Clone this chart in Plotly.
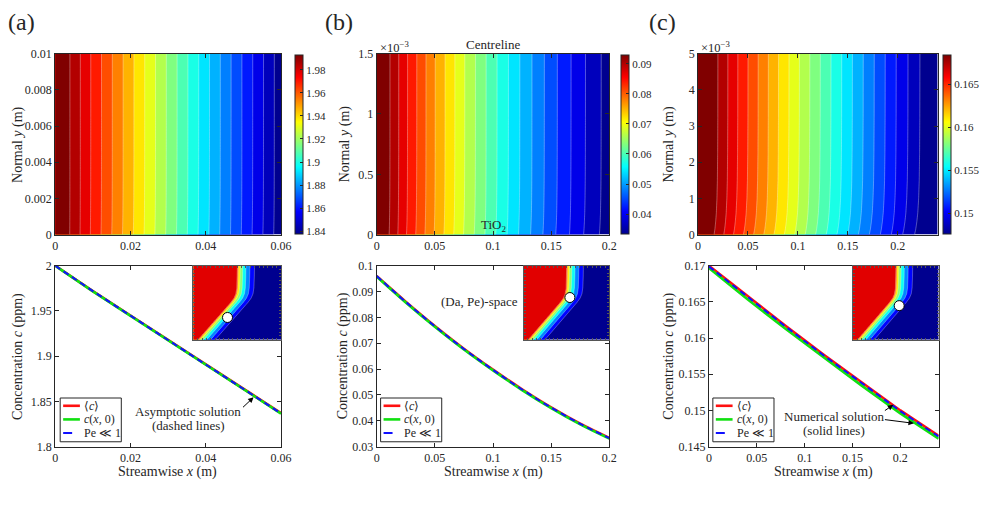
import numpy as np
import plotly.graph_objects as go

W, H = 994, 512
FONT = "Liberation Serif, Times New Roman, serif"
INK = "#262626"

# ------------------------------------------------------------------ data
# Panel (a)
xa = [0, 0.01, 0.02, 0.03, 0.04, 0.05, 0.06]
ca_mean = [2.0, 1.972, 1.945, 1.918, 1.891, 1.864, 1.837]
ca_wall = [2.0, 1.9717, 1.9446, 1.9176, 1.8906, 1.8636, 1.8366]
ca_asym = [2.0, 1.9719, 1.9448, 1.9178, 1.8908, 1.8638, 1.8368]
Ha = 0.01

# Panel (b)
xb = [0, 0.025, 0.05, 0.075, 0.1, 0.125, 0.15, 0.175, 0.2]
cb_mean = [0.0960, 0.0861, 0.0767, 0.0679, 0.0598, 0.0522, 0.0452, 0.0389, 0.0334]
cb_wall = [0.0958, 0.0858, 0.0764, 0.0676, 0.0595, 0.0519, 0.0449, 0.0386, 0.0331]
cb_asym = [0.0960, 0.0860, 0.0766, 0.0678, 0.0597, 0.0521, 0.0451, 0.0388, 0.0333]
Hb = 0.0015

# Panel (c)
xc = [0, 0.04, 0.08, 0.12, 0.16, 0.2, 0.24]
cc_mean = [0.1700, 0.1658, 0.1617, 0.1577, 0.1538, 0.1500, 0.1465]
cc_wall = [0.1697, 0.1654, 0.1613, 0.1573, 0.1534, 0.1496, 0.1461]
cc_asym = [0.1699, 0.1657, 0.1616, 0.1576, 0.1537, 0.1499, 0.1464]
Hc = 0.005

# normal profile: fraction of the wall deficit recovered vs y/H
eta = [0, 0.03, 0.07, 0.12, 0.2, 0.3, 0.45, 0.65, 1.0]
recov = [0, 0.22, 0.42, 0.6, 0.76, 0.87, 0.94, 0.98, 1.0]

# colour bar ranges / ticks
cbar_a = [1.838, 1.993]
cbar_b = [0.0335, 0.093]
cbar_c = [0.1476, 0.1685]
cticks_a = [1.84, 1.86, 1.88, 1.9, 1.92, 1.94, 1.96, 1.98]
cticks_b = [0.04, 0.05, 0.06, 0.07, 0.08, 0.09]
cticks_c = [0.15, 0.155, 0.16, 0.165]
n_levels = 20

# inset (Da, Pe)-space regime map: front position (normalised coords)
map_v = [0.0, 0.2, 0.4, 0.5, 0.56, 0.62, 0.7, 0.85, 1.0]
map_u = [0.05, 0.198, 0.346, 0.42, 0.458, 0.48, 0.49, 0.495, 0.497]
band_w = 0.24
mark_u = [0.39, 0.54, 0.54]
mark_v = [0.30, 0.57, 0.46]

JET = [[0, "rgb(0,0,143)"], [0.125, "rgb(0,0,255)"], [0.375, "rgb(0,255,255)"],
       [0.625, "rgb(255,255,0)"], [0.875, "rgb(255,0,0)"], [1, "rgb(128,0,0)"]]
JET_INSET = [[0, "rgb(0,0,143)"], [0.139, "rgb(0,0,255)"], [0.417, "rgb(0,255,255)"],
             [0.694, "rgb(255,255,0)"], [0.92, "rgb(255,40,0)"], [1, "rgb(225,0,0)"]]

RED, GREEN, BLUE = "#ff1010", "#10e010", "#1010ff"
LEG_NAMES = ["⟨<i>c</i>⟩", "<i>c</i>(<i>x</i>, 0)", "Pe ≪ 1"]


def px_x(p):
    return p / W


def px_y(p):
    return 1 - p / H


def field(wall, mean, Hh):
    wall = np.array(wall)
    mean = np.array(mean)
    e = np.array(eta)
    r = np.array(recov)
    avg = np.trapezoid(r, e)
    y = e * Hh
    z = wall[None, :] + (mean - wall)[None, :] / avg * r[:, None]
    return y, z


fig = go.Figure()

# ------------------------------------------------------------ top fields
tops = [
    (xa, ca_wall, ca_mean, Ha, cbar_a, cticks_a, "x", "y", 296),
    (xb, cb_wall, cb_mean, Hb, cbar_b, cticks_b, "x2", "y2", 627),
    (xc, cc_wall, cc_mean, Hc, cbar_c, cticks_c, "x3", "y3", 953),
]
for (xx, wall, mean, Hh, cb, ct, xr, yr, cbx) in tops:
    yy, zz = field(wall, mean, Hh)
    step = (cb[1] - cb[0]) / n_levels
    fig.add_trace(go.Contour(
        x=xx, y=yy, z=zz, colorscale=JET, zmin=cb[0], zmax=cb[1], zauto=False,
        autocontour=False,
        contours=dict(coloring="fill", start=cb[0] + step * 0.5,
                      end=cb[1] - step * 0.5 + step * 1e-3,
                      size=step, showlines=True),
        line=dict(color="rgba(255,255,255,0.55)", width=0.6, smoothing=0),
        showscale=False, hoverinfo="skip", xaxis=xr, yaxis=yr))
    fig.add_trace(go.Scatter(
        x=[None], y=[None], mode="markers", showlegend=False, hoverinfo="skip",
        xaxis=xr, yaxis=yr,
        marker=dict(color=[cb[0]], cmin=cb[0], cmax=cb[1], colorscale=JET,
                    showscale=True,
                    colorbar=dict(x=px_x(cbx), xanchor="left", xpad=0, ypad=0,
                                  y=px_y(141), yanchor="middle", len=184 / H,
                                  thickness=8, outlinewidth=1, outlinecolor=INK,
                                  tickvals=ct, ticks="inside", ticklen=3,
                                  tickcolor=INK,
                                  tickfont=dict(family=FONT, size=11, color=INK)))))

# ------------------------------------------------------------ bottom lines
bots = [
    (xa, ca_mean, ca_wall, ca_asym, "x4", "y4", "linear"),
    (xb, cb_mean, cb_wall, cb_asym, "x5", "y5", "spline"),
    (xc, cc_mean, cc_wall, cc_asym, "x6", "y6", "linear"),
]
for (xx, m, w, a, xr, yr, shp) in bots:
    fig.add_trace(go.Scatter(x=xx, y=m, mode="lines", name=LEG_NAMES[0],
                             line=dict(color=RED, width=2.6, shape=shp),
                             xaxis=xr, yaxis=yr, showlegend=False, hoverinfo="skip"))
    fig.add_trace(go.Scatter(x=xx, y=w, mode="lines", name=LEG_NAMES[1],
                             line=dict(color=GREEN, width=2.6, shape=shp),
                             xaxis=xr, yaxis=yr, showlegend=False, hoverinfo="skip"))
    fig.add_trace(go.Scatter(x=xx, y=a, mode="lines", name=LEG_NAMES[2],
                             line=dict(color=BLUE, width=2, dash="6px,4px", shape=shp),
                             xaxis=xr, yaxis=yr, showlegend=False, hoverinfo="skip"))

# ------------------------------------------------------------ insets
gu = np.linspace(0, 1, 81)
gv = np.linspace(0, 1, 81)
front = np.interp(gv, map_v, map_u)
d = (gu[None, :] - front[:, None]) / band_w
zmap = np.where(d <= 0, 0.95, np.where(d >= 1, 0.02,
                0.02 + 0.93 * (1 - np.sqrt(np.clip(d, 0, 1)))))
for i, (xr, yr) in enumerate([("x7", "y7"), ("x8", "y8"), ("x9", "y9")]):
    fig.add_trace(go.Contour(
        x=gu, y=gv, z=zmap, colorscale=JET_INSET, zmin=0, zmax=1, zauto=False,
        autocontour=False,
        contours=dict(coloring="fill", start=0.1, end=0.83, size=0.12, showlines=True),
        line=dict(color="rgba(255,255,255,0.6)", width=0.5),
        showscale=False, hoverinfo="skip", xaxis=xr, yaxis=yr))
    fig.add_trace(go.Scatter(
        x=[mark_u[i]], y=[mark_v[i]], mode="markers", showlegend=False,
        hoverinfo="skip", xaxis=xr, yaxis=yr,
        marker=dict(size=10, color="white", line=dict(color="black", width=1))))


# ------------------------------------------------------------ axes
def axis(dom, rng, tv=None, tt=None, anchor=None, labels=True, dtick=None,
         tl=4, lc=INK):
    a = dict(domain=dom, range=rng, anchor=anchor, showline=True, linecolor=lc,
             linewidth=1, mirror="ticks", ticks="inside", ticklen=tl,
             tickcolor=lc, tickwidth=1, showgrid=False, zeroline=False,
             showticklabels=labels, fixedrange=True,
             tickfont=dict(family=FONT, size=12, color=INK))
    if tv is not None:
        a["tickvals"] = tv
        a["ticktext"] = tt
    if dtick is not None:
        a["dtick"] = dtick
        a["tick0"] = 0
    return a


top_y = [px_y(234), px_y(48)]
bot_y = [px_y(452), px_y(266)]
ins_y = [px_y(342), px_y(266)]
ax5 = [0, 0.05, 0.1, 0.15, 0.2]
ax5t = ["0", "0.05", "0.1", "0.15", "0.2"]

layout_axes = dict(
    xaxis=axis([px_x(53), px_x(282)], [0, 0.06], [0, 0.02, 0.04, 0.06],
               ["0", "0.02", "0.04", "0.06"], "y"),
    yaxis=axis(top_y, [0, Ha], [0, 0.002, 0.004, 0.006, 0.008, 0.01],
               ["0", "0.002", "0.004", "0.006", "0.008", "0.01"], "x"),
    xaxis2=axis([px_x(379), px_x(615)], [0, 0.2], ax5, ax5t, "y2"),
    yaxis2=axis(top_y, [0, Hb], [0, 0.0005, 0.001, 0.0015],
                ["0", "0.5", "1", "1.5"], "x2"),
    xaxis3=axis([px_x(705), px_x(948)], [0, 0.24], ax5, ax5t, "y3"),
    yaxis3=axis(top_y, [0, Hc], [0, 0.001, 0.002, 0.003, 0.004, 0.005],
                ["0", "1", "2", "3", "4", "5"], "x3"),
    xaxis4=axis([px_x(53), px_x(282)], [0, 0.06], [0, 0.02, 0.04, 0.06],
                ["0", "0.02", "0.04", "0.06"], "y4"),
    yaxis4=axis(bot_y, [1.8, 2.0], [1.8, 1.85, 1.9, 1.95, 2.0],
                ["1.8", "1.85", "1.9", "1.95", "2"], "x4"),
    xaxis5=axis([px_x(379), px_x(615)], [0, 0.2], ax5, ax5t, "y5"),
    yaxis5=axis(bot_y, [0.03, 0.1], [0.03, 0.04, 0.05, 0.06, 0.07, 0.08, 0.09, 0.1],
                ["0.03", "0.04", "0.05", "0.06", "0.07", "0.08", "0.09", "0.1"], "x5"),
    xaxis6=axis([px_x(716), px_x(949)], [0, 0.24], ax5, ax5t, "y6"),
    yaxis6=axis(bot_y, [0.145, 0.17], [0.145, 0.15, 0.155, 0.16, 0.165, 0.17],
                ["0.145", "0.15", "0.155", "0.16", "0.165", "0.17"], "x6"),
    xaxis7=axis([px_x(193), px_x(282)], [0, 1], anchor="y7", labels=False,
                dtick=0.05, tl=2, lc="#555"),
    yaxis7=axis(ins_y, [0, 1], anchor="x7", labels=False, dtick=0.05, tl=2, lc="#555"),
    xaxis8=axis([px_x(528), px_x(615)], [0, 1], anchor="y8", labels=False,
                dtick=0.05, tl=2, lc="#555"),
    yaxis8=axis(ins_y, [0, 1], anchor="x8", labels=False, dtick=0.05, tl=2, lc="#555"),
    xaxis9=axis([px_x(862), px_x(949)], [0, 1], anchor="y9", labels=False,
                dtick=0.05, tl=2, lc="#555"),
    yaxis9=axis(ins_y, [0, 1], anchor="x9", labels=False, dtick=0.05, tl=2, lc="#555"),
)


def ann(text, xp, yp, size=14, angle=0, xanchor="center", yanchor="middle"):
    return dict(text=text, x=px_x(xp), y=px_y(yp), xref="paper", yref="paper",
                showarrow=False, textangle=angle, xanchor=xanchor, yanchor=yanchor,
                font=dict(family=FONT, size=size, color=INK))


def arrow(hx, hy, tx, ty, xr, yr):
    return dict(x=hx, y=hy, xref=xr, yref=yr, ax=tx, ay=ty, axref=xr, ayref=yr,
                text="", showarrow=True, arrowhead=2, arrowsize=1.1,
                arrowwidth=1, arrowcolor="black", standoff=0)


annotations = [
    ann("(a)", 19, 15, size=24), ann("(b)", 341, 15, size=24), ann("(c)", 669, 15, size=24),
    ann("Normal <i>y</i> (m)", 15, 141, angle=-90),
    ann("Normal <i>y</i> (m)", 347, 141, angle=-90),
    ann("Normal <i>y</i> (m)", 676, 141, angle=-90),
    ann("Concentration <i>c</i> (ppm)", 15, 359, angle=-90),
    ann("Concentration <i>c</i> (ppm)", 345, 359, angle=-90),
    ann("Concentration <i>c</i> (ppm)", 676, 359, angle=-90),
    ann("Streamwise <i>x</i> (m)", 167, 478),
    ann("Streamwise <i>x</i> (m)", 497, 478),
    ann("Streamwise <i>x</i> (m)", 832, 478),
    ann("×10<sup>−3</sup>", 380, 41, size=12.5, xanchor="left"),
    ann("×10<sup>−3</sup>", 706, 41, size=12.5, xanchor="left"),
    ann("Centreline", 497, 39, size=13),
    ann("TiO<sub>2</sub>", 497, 225, size=13),
    ann("(Da, Pe)-space", 483, 303, size=13),
    ann("Asymptotic solution", 188, 416, size=13),
    ann("(dashed lines)", 188, 430, size=13),
    ann("Numerical solution", 843, 421, size=13),
    ann("(solid lines)", 843, 435, size=13),
    arrow(0.0527, 1.8545, 0.0495, 1.842, "x4", "y4"),
    arrow(0.1926, 0.15078, 0.1823, 0.14984, "x6", "y6"),
    arrow(0.2142, 0.14822, 0.1823, 0.14876, "x6", "y6"),
]

# ------------------------------------------------------------ legends (boxed key)
shapes = []
leg_left = [58, 383, 720]
leg_rows = [410, 424, 438]
leg_style = [(RED, 2.6, "solid"), (GREEN, 2.6, "solid"), (BLUE, 2, "dash")]
for L in leg_left:
    shapes.append(dict(type="rect", xref="paper", yref="paper",
                       x0=px_x(L), x1=px_x(L + 62), y0=px_y(447), y1=px_y(402),
                       line=dict(color=INK, width=1), fillcolor="white", layer="above"))
    for r, (col, wid, dsh), nm in zip(leg_rows, leg_style, LEG_NAMES):
        shapes.append(dict(type="line", xref="paper", yref="paper",
                           x0=px_x(L + 3), x1=px_x(L + 20), y0=px_y(r), y1=px_y(r),
                           line=dict(color=col, width=wid, dash=dsh), layer="above"))
        annotations.append(ann(nm, L + 22, r, size=12, xanchor="left"))

fig.update_layout(
    width=W, height=H, margin=dict(l=0, r=0, t=0, b=0),
    paper_bgcolor="white", plot_bgcolor="white",
    font=dict(family=FONT, color=INK),
    annotations=annotations, shapes=shapes, showlegend=False,
    **layout_axes,
)

fig.write_html("out.html")
